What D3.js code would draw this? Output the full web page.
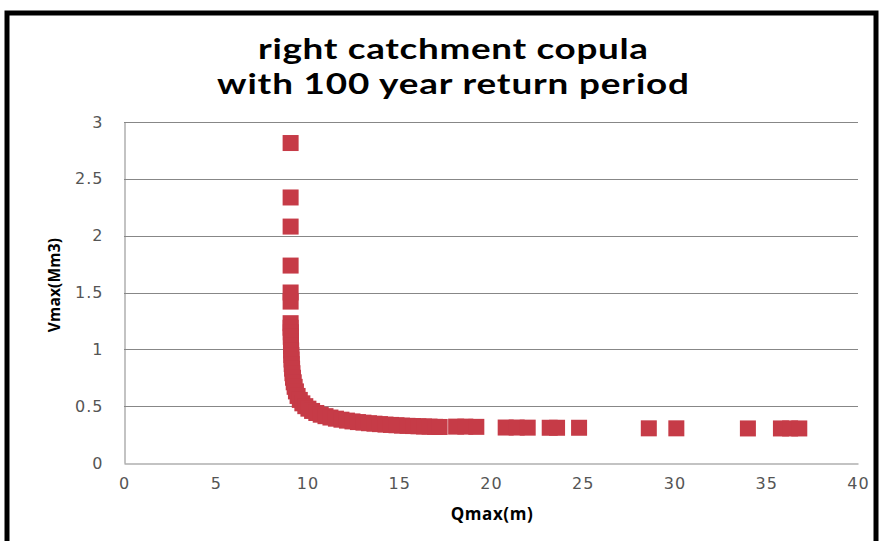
<!DOCTYPE html>
<html><head><meta charset="utf-8">
<script src="https://cdn.jsdelivr.net/npm/d3@7"></script>
<style>html,body{margin:0;padding:0;background:#fff;}svg{display:block;}</style>
</head><body>
<svg id="c" width="880" height="541"></svg>
<script>
// ---- data ----
const titleLines = ["right catchment copula", "with 100 year return period"];
const xLabel = "Qmax(m)";
const yLabel = "Vmax(Mm3)";
const xTicks = [0, 5, 10, 15, 20, 25, 30, 35, 40];
const yTicks = [0, 0.5, 1, 1.5, 2, 2.5, 3];
// isolated upper points
const upperQ = [9.08, 9.08, 9.08, 9.08, 9.08, 9.08];
const upperV = [2.815, 2.336, 2.08, 1.737, 1.50, 1.42];
// dense contour band
const curveQ = [9.08, 9.08, 9.09, 9.09, 9.10, 9.10, 9.11, 9.12, 9.13, 9.14, 9.16, 9.18, 9.21, 9.25, 9.30, 9.37, 9.46, 9.58, 9.72, 9.88, 10.05, 10.25, 10.48, 10.72, 10.98, 11.25, 11.55, 11.85, 12.15, 12.45, 12.75, 13.05, 13.35, 13.65, 13.95, 14.25, 14.55, 14.85, 15.15, 15.45, 15.75, 16.05, 16.35, 16.65, 16.95, 17.2];
const curveV = [1.23, 1.19, 1.15, 1.11, 1.07, 1.03, 0.99, 0.95, 0.91, 0.87, 0.83, 0.79, 0.75, 0.71, 0.67, 0.63, 0.59, 0.555, 0.525, 0.50, 0.478, 0.458, 0.44, 0.425, 0.412, 0.40, 0.39, 0.381, 0.373, 0.366, 0.36, 0.355, 0.35, 0.346, 0.342, 0.338, 0.335, 0.332, 0.329, 0.327, 0.325, 0.323, 0.321, 0.32, 0.318, 0.317];
// sparse tail points
const tailQ = [18.1, 18.6, 19.2, 20.8, 21.4, 22.0, 23.2, 23.6, 24.8, 28.6, 30.1, 34.0, 35.8, 36.3, 36.8];
const tailV = [0.32, 0.32, 0.318, 0.312, 0.312, 0.311, 0.31, 0.31, 0.31, 0.305, 0.305, 0.304, 0.304, 0.304, 0.304];

const points = [];
[[upperQ, upperV], [curveQ, curveV], [tailQ, tailV]].forEach(([qs, vs]) => {
  qs.forEach((q, i) => points.push({q: q, v: vs[i]}));
});

// ---- chart ----
const svg = d3.select("#c");
const pLeft = 124, pRight = 858, pTop = 122, pBottom = 463;
const x = d3.scaleLinear().domain([0, 40]).range([pLeft, pRight]);
const y = d3.scaleLinear().domain([0, 3]).range([pBottom, pTop]);

// frame
svg.append("rect").attr("x", 7).attr("y", 13).attr("width", 869).attr("height", 560)
  .attr("fill", "#fff").attr("stroke", "#000").attr("stroke-width", 5);

// title (horizontally stretched like the reference)
const titleWidths = [390, 472];
const stretch = 1.27;
svg.append("g").attr("transform", `translate(453,0) scale(${stretch},1)`)
  .selectAll("text").data(titleLines).join("text")
  .attr("x", 0).attr("y", (d, i) => 59 + i * 35)
  .attr("text-anchor", "middle")
  .attr("font-family", "Lato, sans-serif").attr("font-weight", 700)
  .attr("font-size", 29).attr("fill", "#000")
  .attr("textLength", (d, i) => titleWidths[i] / stretch).attr("lengthAdjust", "spacing")
  .text(d => d);

// gridlines
svg.append("g").selectAll("line").data(yTicks.filter(t => t > 0)).join("line")
  .attr("x1", pLeft).attr("x2", pRight)
  .attr("y1", d => Math.round(y(d)) + 0.5).attr("y2", d => Math.round(y(d)) + 0.5)
  .attr("stroke", "#878787").attr("stroke-width", 1);

// axes
const yAxis = d3.axisLeft(y).tickValues(yTicks).tickSize(0).tickPadding(21).tickFormat(d3.format("~g"));
const xAxis = d3.axisBottom(x).tickValues(xTicks).tickSize(0).tickPadding(14).tickFormat(d3.format("~g"));
const gy = svg.append("g").attr("transform", `translate(${pLeft + 0.5},0)`).call(yAxis);
const gx = svg.append("g").attr("transform", `translate(0,${pBottom + 0.5})`).call(xAxis);
[gx, gy].forEach(g => {
  g.select(".domain").attr("stroke", "#878787");
  g.selectAll("text").attr("font-family", "DejaVu Sans, sans-serif").attr("font-size", 16)
    .attr("letter-spacing", 1).attr("fill", "#555");
});

// axis titles
svg.append("text").attr("x", 492).attr("y", 520).attr("text-anchor", "middle")
  .attr("font-family", "Open Sans, sans-serif").attr("font-weight", 700).attr("font-size", 17)
  .attr("letter-spacing", 0.6).attr("fill", "#000").text(xLabel);
svg.append("text").attr("transform", "translate(60,285) rotate(-90)").attr("text-anchor", "middle")
  .attr("font-family", "Open Sans, sans-serif").attr("font-weight", 700).attr("font-size", 15.5)
  .attr("letter-spacing", 0.2).attr("fill", "#000").text(yLabel);

// markers
const s = 16;
svg.append("g").selectAll("rect").data(points).join("rect")
  .attr("x", d => x(d.q) - s / 2).attr("y", d => y(d.v) - s / 2)
  .attr("width", s).attr("height", s)
  .attr("fill", "#c63b47");
</script>
</body></html>
